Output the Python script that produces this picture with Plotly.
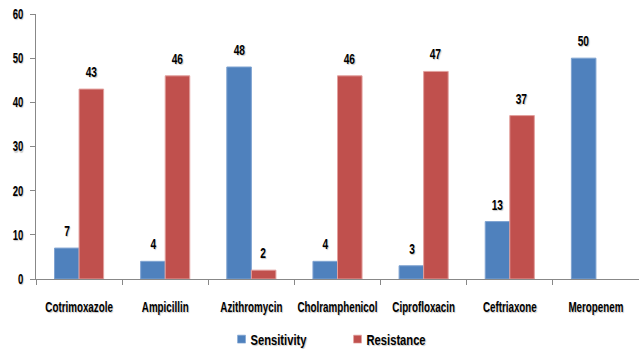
import plotly.graph_objects as go

antibiotics = ["Cotrimoxazole", "Ampicillin", "Azithromycin", "Cholramphenicol",
               "Ciprofloxacin", "Ceftriaxone", "Meropenem"]
sensitivity = [7, 4, 48, 4, 3, 13, 50]
resistance = [43, 46, 2, 46, 47, 37, None]
y_ticks = [0, 10, 20, 30, 40, 50, 60]

FONT = "Liberation Sans, Arial, sans-serif"
BLUE = "#4F81BD"
RED = "#C0504D"
SHADOW = "1px 1px 1px rgba(0,0,0,0.22)"

fig = go.Figure()
fig.add_trace(go.Bar(name="<b>Sensitivity</b>", x=antibiotics, y=sensitivity,
                     marker=dict(color=BLUE, line=dict(color="#7FA3D1", width=1))))
fig.add_trace(go.Bar(name="<b>Resistance</b>", x=antibiotics, y=resistance,
                     marker=dict(color=RED, line=dict(color="#E2A09E", width=1))))

# value labels above each bar, offset to the bar's slot within the group
for vals, shift in ((sensitivity, -12), (resistance, 12)):
    for cat, v in zip(antibiotics, vals):
        if v is None:
            continue
        fig.add_annotation(x=cat, y=v, text=f"<b>{v}</b>", showarrow=False,
                           xshift=shift, yshift=7, yanchor="bottom",
                           font=dict(family=FONT, size=15, color="black", shadow=SHADOW))

fig.update_layout(
    width=639, height=349,
    margin=dict(l=36, r=0, t=14, b=70, autoexpand=False),
    plot_bgcolor="white", paper_bgcolor="white",
    barmode="group", bargap=0.43, bargroupgap=0,
    font=dict(family=FONT, color="black"),
    showlegend=True,
    legend=dict(orientation="h", x=0.3077, xanchor="left", y=-0.168, yanchor="top",
                entrywidth=71, entrywidthmode="pixels",
                font=dict(family=FONT, size=14, color="black", shadow=SHADOW)),
    xaxis=dict(range=[-0.5, 6.5], showline=True, linecolor="#888888", linewidth=1,
               ticks="outside", tickson="boundaries", ticklen=5, tickcolor="#888888",
               tickangle=0, ticklabelstandoff=15,
               tickvals=antibiotics, ticktext=[f"<b>{a}</b>" for a in antibiotics],
               tickfont=dict(family=FONT, size=14, color="black", shadow=SHADOW),
               showgrid=False),
    yaxis=dict(range=[0, 60], tickvals=y_ticks, ticktext=[f"<b>{t}</b>" for t in y_ticks],
               showline=True, linecolor="#888888", linewidth=1,
               ticks="outside", ticklen=5, tickcolor="#888888", ticklabelstandoff=4,
               tickfont=dict(family=FONT, size=14, color="black", shadow=SHADOW),
               showgrid=False, zeroline=False),
)

# narrow the bold lettering horizontally (condensed look), keeping each
# label anchored where plotly placed it; tighten the legend keys
condense = """
function squeeze(sel, s, anchorLeft, dx) {
  document.querySelectorAll(sel).forEach(function (t) {
    var b = t.getBBox();
    var cx = anchorLeft ? b.x : (t.getAttribute('text-anchor') === 'end' ? b.x + b.width : b.x + b.width / 2);
    var tr = t.getAttribute('transform') || '';
    t.setAttribute('transform', tr + ' translate(' + (cx + (dx || 0)) + ',0) scale(' + s + ',1) translate(' + (-cx) + ',0)');
  });
}
squeeze('.xtick text', 0.7, false);
squeeze('.ytick text', 0.68, false);
squeeze('.annotation-text', 0.68, false);
squeeze('.legendtext', 0.8, true, -11);
document.querySelectorAll('.legendpoints path').forEach(function (p) {
  var b = p.getBBox();
  var cx = b.x + b.width / 2, cy = b.y + b.height / 2;
  var tr = p.getAttribute('transform') || '';
  p.setAttribute('transform', tr + ' translate(' + cx + ',' + cy + ') scale(0.66) translate(' + (-cx) + ',' + (-cy) + ')');
});
"""

fig.write_html("out.html", post_script=condense)
